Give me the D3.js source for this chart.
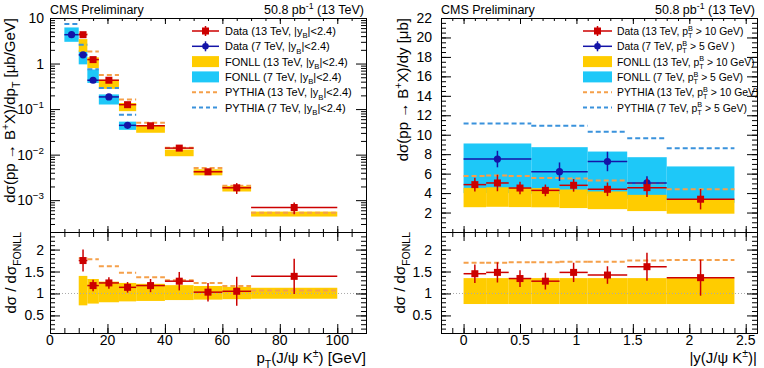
<!DOCTYPE html>
<html><head><meta charset="utf-8">
<script src="https://cdn.jsdelivr.net/npm/d3@7"></script>
<style>body{margin:0;background:#fff}svg{display:block}text{font-family:"Liberation Sans",Arial,Helvetica,sans-serif;fill:#000}</style>
</head><body><svg id="c" width="764" height="368"></svg>
<script>
// ---------------- data: pT spectrum ----------------
const ptLo13=[10,13,17,24,30,40,50,60,70];
const ptHi13=[13,17,24,30,40,50,60,70,100];
const xsPt13=[4.3,1.22,0.43,0.125,0.043,0.0139,0.0042,0.00187,0.00069];
const xsPt13Err=[0.5,0.12,0.04,0.012,0.004,0.0016,0.0006,0.0005,0.0002];
const ptLo7=[5,10,13,17,24];
const ptHi7=[10,13,17,24,30];
const xsPt7=[4.3,1.55,0.43,0.185,0.044];
const xsPt7Err=[0.6,0.2,0.05,0.02,0.006];
const fonllPt13Lo=[1.80,0.79,0.278,0.090,0.0302,0.00923,0.00351,0.00155,0.000437];
const fonllPt13Hi=[3.44,1.37,0.441,0.136,0.0444,0.0129,0.00477,0.00205,0.000561];
const fonllPt7Lo=[3.0,0.96,0.375,0.126,0.035];
const fonllPt7Hi=[6.2,1.95,0.74,0.21,0.053];
const pythiaPt13=[4.43,1.83,0.562,0.162,0.0499,0.0141,0.00506,0.00208,0.000531];
const pythiaPt7=[7.4,2.6,0.75,0.29,0.075];
const ratioPt=[1.75,1.18,1.24,1.14,1.18,1.28,1.03,1.05,1.39];
const ratioPtErr=[0.25,0.13,0.13,0.12,0.15,0.21,0.21,0.33,0.4];
const ratioFonllPtLo=[0.73,0.77,0.80,0.82,0.83,0.85,0.86,0.87,0.88];
const ratioFonllPtHi=[1.40,1.33,1.27,1.24,1.22,1.19,1.17,1.15,1.13];
const ratioPythiaPt=[1.80,1.78,1.62,1.47,1.37,1.30,1.24,1.17,1.07];
// ---------------- data: rapidity ----------------
const yLo13=[0,0.2,0.4,0.6,0.85,1.1,1.45,1.8];
const yHi13=[0.2,0.4,0.6,0.85,1.1,1.45,1.8,2.4];
const xsY13=[4.87,5.04,4.52,4.28,4.8,4.39,4.56,3.37];
const xsY13Err=[0.7,0.85,0.65,0.6,0.65,0.7,0.95,1.05];
const yLo7=[0,0.6,1.1,1.45,1.8];
const yHi7=[0.6,1.1,1.45,1.8,2.4];
const xsY7=[7.5,6.2,7.25,5.04];
const xsY7Err=[0.85,0.95,1.0,0.7];
const fonllY13Lo=[2.55,2.59,2.56,2.54,2.46,2.35,2.15,1.88];
const fonllY13Hi=[4.54,4.60,4.55,4.51,4.37,4.17,3.82,3.35];
const fonllY7Lo=[4.0,3.9,3.7,3.4,3.0];
const fonllY7Hi=[9.1,8.72,8.27,7.69,6.74];
const pythiaY13=[5.75,5.8,5.75,5.55,5.5,5.3,5.0,4.4];
const pythiaY7=[11.15,10.93,10.3,9.63,8.6];
const ratioY=[1.45,1.48,1.34,1.28,1.48,1.42,1.61,1.36];
const ratioYErr=[0.21,0.23,0.19,0.19,0.22,0.2,0.32,0.41];
const ratioFonllYLo=[0.76,0.76,0.76,0.76,0.76,0.76,0.76,0.76];
const ratioFonllYHi=[1.35,1.35,1.35,1.35,1.35,1.35,1.35,1.35];
const ratioPythiaY=[1.70,1.70,1.71,1.71,1.72,1.72,1.75,1.76];
// ---------------- tick labels ----------------
const ptTickLabels=[0,20,40,60,80,100];
const yTickLabels=[0,0.5,1,1.5,2,2.5];
const logTickLabels=[10,1,0.1,0.01,0.001];
const linTickLabels=[2,4,6,8,10,12,14,16,18,20,22];
const ratioTickLabels=[0.5,1,1.5,2];
const legendPt=[
 [["Data (13 TeV, |y"],["B","sub"],["|<2.4)"]],
 [["Data (7 TeV, |y"],["B","sub"],["|<2.4)"]],
 [["FONLL (13 TeV, |y"],["B","sub"],["|<2.4)"]],
 [["FONLL (7 TeV, |y"],["B","sub"],["|<2.4)"]],
 [["PYTHIA (13 TeV, |y"],["B","sub"],["|<2.4)"]],
 [["PYTHIA (7 TeV, |y"],["B","sub"],["|<2.4)"]]];
const legendY=[
 [["Data (13 TeV, p"],["T","sub"],["B","supx"],[" > 10 GeV)"]],
 [["Data (7 TeV, p"],["T","sub"],["B","supx"],[" > 5 GeV )"]],
 [["FONLL (13 TeV, p"],["T","sub"],["B","supx"],[" > 10 GeV)"]],
 [["FONLL (7 TeV, p"],["T","sub"],["B","supx"],[" > 5 GeV)"]],
 [["PYTHIA (13 TeV, p"],["T","sub"],["B","supx"],[" > 10 GeV)"]],
 [["PYTHIA (7 TeV, p"],["T","sub"],["B","supx"],[" > 5 GeV)"]]];

const C={red:"#cc0000",blue:"#1414a8",yellow:"#ffcc00",cyan:"#1ec8f8",orange:"#f5a04a",dblue:"#3a92dc"};
const svg=d3.select("#c");
const TOP=18, MID=232, BOT=333;

const xPt=d3.scaleLinear().domain([0,110]).range([50,366]);
const yPt=d3.scaleLog().domain([2e-4,10]).range([MID,TOP]);
const xY=d3.scaleLinear().domain([-0.2,2.6]).range([441,757]);
const yY=d3.scaleLinear().domain([0,22]).range([MID,TOP]);
const yR=d3.scaleLinear().domain([0.1,2.4]).range([BOT,MID]);

function rich(t,parts,fs){
  let shift=0;
  parts.forEach(p=>{
    const s=p[0], type=p[1]||"n";
    let target=0, dx=null;
    if(type==="sub") target=0.3*fs;
    if(type==="sup"||type==="supx") target=-0.42*fs;
    if(type==="supx") dx=-0.43*fs;
    const sp=t.append("tspan").text(s).attr("dy",target-shift);
    if(dx!==null) sp.attr("dx",dx);
    if(type!=="n") sp.attr("font-size",fs*0.7);
    shift=target;
  });
}
function bands(x,y,lo,hi,vlo,vhi,col){
  svg.append("g").selectAll("rect").data(lo).join("rect")
   .attr("x",(d,i)=>x(lo[i])).attr("width",(d,i)=>x(hi[i])-x(lo[i]))
   .attr("y",(d,i)=>y(vhi[i])).attr("height",(d,i)=>y(vlo[i])-y(vhi[i]))
   .attr("fill",col);
}
function dashes(x,y,lo,hi,v,col){
  svg.append("g").selectAll("line").data(lo).join("line")
   .attr("x1",(d,i)=>x(lo[i])).attr("x2",(d,i)=>x(hi[i]))
   .attr("y1",(d,i)=>y(v[i])).attr("y2",(d,i)=>y(v[i]))
   .attr("stroke",col).attr("stroke-width",2).attr("stroke-dasharray","5,3");
}
function points(x,y,lo,hi,v,e,col,marker){
  const g=svg.append("g");
  v.forEach((val,i)=>{
    const cx=x((lo[i]+hi[i])/2), cy=y(val);
    g.append("line").attr("x1",x(lo[i])).attr("x2",x(hi[i])).attr("y1",cy).attr("y2",cy).attr("stroke",col).attr("stroke-width",1.5);
    g.append("line").attr("x1",cx).attr("x2",cx).attr("y1",y(val+e[i])).attr("y2",y(Math.max(val-e[i],1e-9))).attr("stroke",col).attr("stroke-width",1.5);
    if(marker==="sq") g.append("rect").attr("x",cx-3.5).attr("y",cy-3.5).attr("width",7).attr("height",7).attr("fill",col);
    else g.append("circle").attr("cx",cx).attr("cy",cy).attr("r",3.6).attr("fill",col);
  });
}
function ticks(scale,orient,pos,vals,len){
  const mk={left:d3.axisLeft,right:d3.axisRight,top:d3.axisTop,bottom:d3.axisBottom}[orient];
  const g=svg.append("g").attr("transform",(orient==="left"||orient==="right")?`translate(${pos},0)`:`translate(0,${pos})`)
    .call(mk(scale).tickValues(vals).tickSize(-len).tickFormat(""));
  g.select(".domain").remove();
  g.selectAll("line").attr("stroke","#000");
}
function range(a,b,s){const r=[];for(let v=a;v<=b+1e-9;v+=s)r.push(+v.toFixed(4));return r;}

// ---------------- LEFT TOP ----------------
bands(xPt,yPt,ptLo7,ptHi7,fonllPt7Lo,fonllPt7Hi,C.cyan);
bands(xPt,yPt,ptLo13,ptHi13,fonllPt13Lo,fonllPt13Hi,C.yellow);
dashes(xPt,yPt,ptLo13,ptHi13,pythiaPt13,C.orange);
dashes(xPt,yPt,ptLo7,ptHi7,pythiaPt7,C.dblue);
points(xPt,yPt,ptLo7,ptHi7,xsPt7,xsPt7Err,C.blue,"c");
points(xPt,yPt,ptLo13,ptHi13,xsPt13,xsPt13Err,C.red,"sq");
// ---------------- LEFT BOTTOM ----------------
bands(xPt,yR,ptLo13,ptHi13,ratioFonllPtLo,ratioFonllPtHi,C.yellow);
svg.append("line").attr("x1",xPt(0)).attr("x2",xPt(110)).attr("y1",yR(1)).attr("y2",yR(1)).attr("stroke","#aaa").attr("stroke-dasharray","1,2");
dashes(xPt,yR,ptLo13,ptHi13,ratioPythiaPt,C.orange);
points(xPt,yR,ptLo13,ptHi13,ratioPt,ratioPtErr,C.red,"sq");
// ---------------- RIGHT TOP ----------------
bands(xY,yY,yLo7,yHi7,fonllY7Lo,fonllY7Hi,C.cyan);
bands(xY,yY,yLo13,yHi13,fonllY13Lo,fonllY13Hi,C.yellow);
dashes(xY,yY,yLo13,yHi13,pythiaY13,C.orange);
dashes(xY,yY,yLo7,yHi7,pythiaY7,C.dblue);
points(xY,yY,yLo7.slice(0,4),yHi7.slice(0,4),xsY7,xsY7Err,C.blue,"c");
points(xY,yY,yLo13,yHi13,xsY13,xsY13Err,C.red,"sq");
// ---------------- RIGHT BOTTOM ----------------
bands(xY,yR,yLo13,yHi13,ratioFonllYLo,ratioFonllYHi,C.yellow);
svg.append("line").attr("x1",xY(-0.2)).attr("x2",xY(2.6)).attr("y1",yR(1)).attr("y2",yR(1)).attr("stroke","#aaa").attr("stroke-dasharray","1,2");
dashes(xY,yR,yLo13,yHi13,ratioPythiaY,C.orange);
points(xY,yR,yLo13,yHi13,ratioY,ratioYErr,C.red,"sq");

// ---------------- frames & ticks ----------------
[[50,366],[441,757]].forEach(([a,b])=>{
  svg.append("rect").attr("x",a+0.5).attr("y",TOP+0.5).attr("width",b-a).attr("height",MID-TOP).attr("fill","none").attr("stroke","#000");
  svg.append("rect").attr("x",a+0.5).attr("y",MID+0.5).attr("width",b-a).attr("height",BOT-MID).attr("fill","none").attr("stroke","#000");
});
const logMajor=[1e-3,1e-2,1e-1,1,10];
const logMinor=[];[1e-4,1e-3,1e-2,1e-1,1].forEach(d=>{for(let k=2;k<=9;k++){const v=k*d;if(v>=2e-4&&v<=10)logMinor.push(v);}});
// left top
ticks(yPt,"left",50,logMajor,10); ticks(yPt,"left",50,logMinor,5);
ticks(yPt,"right",366,logMajor,10); ticks(yPt,"right",366,logMinor,5);
ticks(xPt,"bottom",MID,range(0,100,20),6); ticks(xPt,"bottom",MID,range(0,110,5),3);
ticks(xPt,"top",TOP,range(0,100,20),6); ticks(xPt,"top",TOP,range(0,110,5),3);
// left bottom
ticks(yR,"left",50,ratioTickLabels,10); ticks(yR,"left",50,range(0.1,2.4,0.1),5);
ticks(yR,"right",366,ratioTickLabels,10); ticks(yR,"right",366,range(0.1,2.4,0.1),5);
ticks(xPt,"bottom",BOT,range(0,100,20),9); ticks(xPt,"bottom",BOT,range(0,110,5),5);
ticks(xPt,"top",MID,range(0,100,20),9); ticks(xPt,"top",MID,range(0,110,5),5);
// right top
ticks(yY,"left",441,range(0,22,2),10); ticks(yY,"left",441,range(0,22,0.5),5);
ticks(yY,"right",757,range(0,22,2),10); ticks(yY,"right",757,range(0,22,0.5),5);
ticks(xY,"bottom",MID,yTickLabels,6); ticks(xY,"bottom",MID,range(-0.2,2.6,0.1),3);
ticks(xY,"top",TOP,yTickLabels,6); ticks(xY,"top",TOP,range(-0.2,2.6,0.1),3);
// right bottom
ticks(yR,"left",441,ratioTickLabels,10); ticks(yR,"left",441,range(0.1,2.4,0.1),5);
ticks(yR,"right",757,ratioTickLabels,10); ticks(yR,"right",757,range(0.1,2.4,0.1),5);
ticks(xY,"bottom",BOT,yTickLabels,9); ticks(xY,"bottom",BOT,range(-0.2,2.6,0.1),5);
ticks(xY,"top",MID,yTickLabels,9); ticks(xY,"top",MID,range(-0.2,2.6,0.1),5);

// ---------------- tick labels ----------------
const TF=14;
logTickLabels.forEach(v=>{
  const t=svg.append("text").attr("x",44).attr("y",yPt(v)+5).attr("text-anchor","end").attr("font-size",TF);
  if(v===10) t.text("10"); else if(v===1) t.text("1");
  else rich(t,[["10"],["\u2212"+Math.round(-Math.log10(v)),"sup"]],TF);
});
linTickLabels.forEach(v=>svg.append("text").attr("x",432).attr("y",yY(v)+5).attr("text-anchor","end").attr("font-size",TF).text(v));
ratioTickLabels.forEach(v=>{
  svg.append("text").attr("x",44).attr("y",yR(v)+5).attr("text-anchor","end").attr("font-size",TF).text(v);
  svg.append("text").attr("x",432).attr("y",yR(v)+5).attr("text-anchor","end").attr("font-size",TF).text(v);
});
ptTickLabels.forEach(v=>svg.append("text").attr("x",xPt(v)).attr("y",345).attr("text-anchor","middle").attr("font-size",TF).text(v));
yTickLabels.forEach(v=>svg.append("text").attr("x",xY(v)).attr("y",345).attr("text-anchor","middle").attr("font-size",TF).text(v));

// ---------------- axis titles ----------------
const AF=15;
function ytitle(x,y,parts){
  const t=svg.append("text").attr("transform",`translate(${x},${y}) rotate(-90)`).attr("text-anchor","end").attr("font-size",AF);
  rich(t,parts,AF);
}
ytitle(15,TOP,[["d\u03C3(pp \u2192 B"],["+","sup"],["X)/dp"],["T","sub"],[" [\u03BCb/GeV]"]]);
ytitle(408,TOP,[["d\u03C3(pp \u2192 B"],["+","sup"],["X)/dy [\u03BCb]"]]);
ytitle(16,MID,[["d\u03C3 / d\u03C3"],["FONLL","sub"]]);
ytitle(405,MID,[["d\u03C3 / d\u03C3"],["FONLL","sub"]]);
{const t=svg.append("text").attr("x",366).attr("y",363).attr("text-anchor","end").attr("font-size",AF);
 rich(t,[["p"],["T","sub"],["(J/\u03C8 K"],["\u00B1","sup"],[") [GeV]"]],AF);}
{const t=svg.append("text").attr("x",757).attr("y",363).attr("text-anchor","end").attr("font-size",AF);
 rich(t,[["|y(J/\u03C8 K"],["\u00B1","sup"],[")|"]],AF);}

// ---------------- headers ----------------
[[50,364],[441,755]].forEach(([a,b])=>{
  svg.append("text").attr("x",a).attr("y",14).attr("font-size",12.5).text("CMS Preliminary");
  const t=svg.append("text").attr("x",b).attr("y",14).attr("text-anchor","end").attr("font-size",12.5);
  rich(t,[["50.8 pb"],["-1","sup"],[" (13 TeV)"]],12.5);
});

// ---------------- legends ----------------
function legend(x0,x1,tx,entries,LF){
  entries.forEach((parts,i)=>{
    const cy=31+i*15.3, cx=(x0+x1)/2;
    if(i<2){
      const col=i===0?C.red:C.blue;
      svg.append("line").attr("x1",x0).attr("x2",x1).attr("y1",cy).attr("y2",cy).attr("stroke",col).attr("stroke-width",1.5);
      svg.append("line").attr("x1",cx).attr("x2",cx).attr("y1",cy-5).attr("y2",cy+5).attr("stroke",col).attr("stroke-width",1.5);
      if(i===0) svg.append("rect").attr("x",cx-3.5).attr("y",cy-3.5).attr("width",7).attr("height",7).attr("fill",col);
      else svg.append("circle").attr("cx",cx).attr("cy",cy).attr("r",3.3).attr("fill",col);
    } else if(i<4){
      svg.append("rect").attr("x",x0).attr("y",cy-5.5).attr("width",x1-x0).attr("height",11).attr("fill",i===2?C.yellow:C.cyan);
    } else {
      svg.append("line").attr("x1",x0).attr("x2",x1).attr("y1",cy).attr("y2",cy).attr("stroke",i===4?C.orange:C.dblue).attr("stroke-width",2).attr("stroke-dasharray","4,3");
    }
    const t=svg.append("text").attr("x",tx).attr("y",cy+4).attr("font-size",LF);
    rich(t,parts,LF);
  });
}
legend(192,219,225,legendPt,11);
legend(583,612,617,legendY,10.4);
</script></body></html>
